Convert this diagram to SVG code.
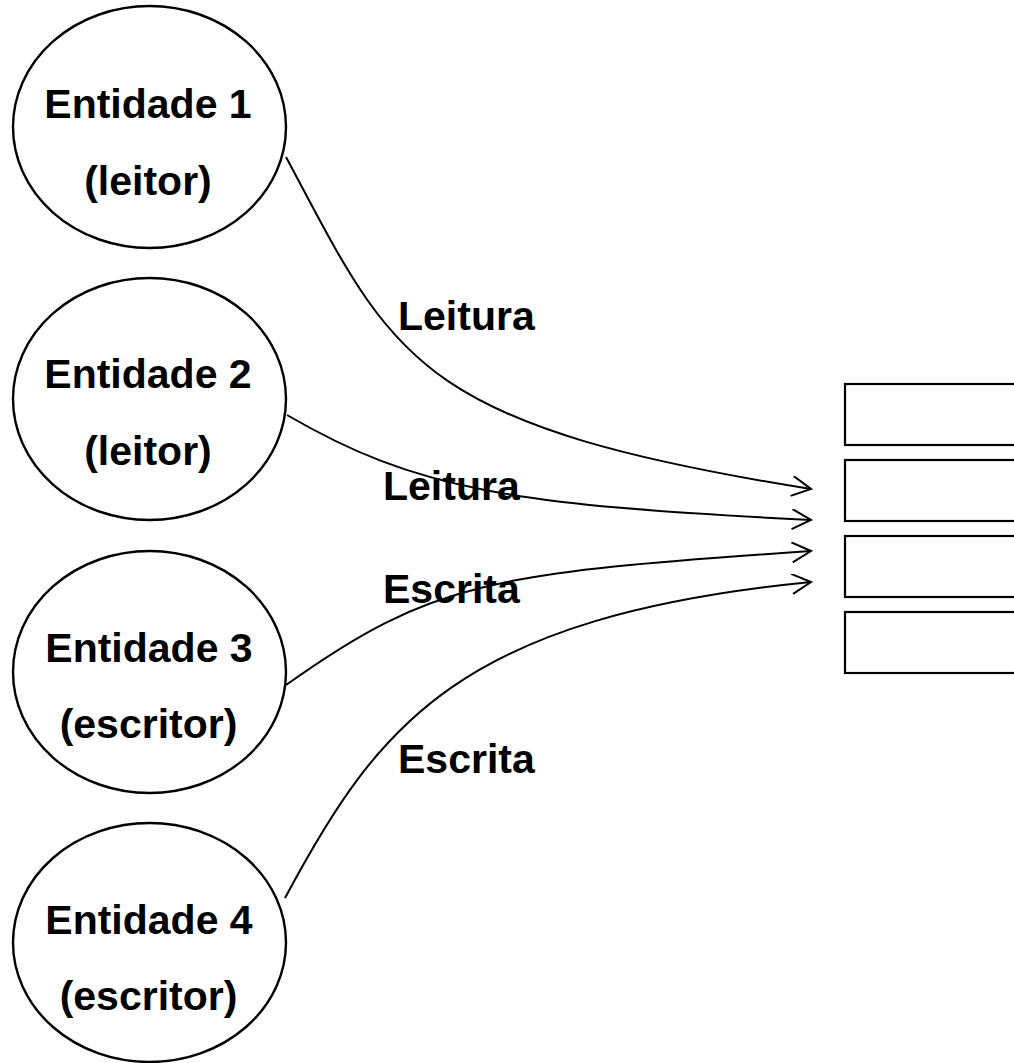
<svg xmlns="http://www.w3.org/2000/svg" width="1014" height="1063" viewBox="0 0 1014 1063">
<style>
.node{fill:#fff;stroke:#000;stroke-width:2.4}
.lbl{font-family:"Liberation Sans",Arial,sans-serif;font-weight:bold;font-size:41px;fill:#000}
.ctr{text-anchor:middle}
.conn{fill:none;stroke:#000;stroke-width:2;marker-end:url(#arr)}
.slot{fill:#fff;stroke:#000;stroke-width:2.2}
</style>
<defs>
<marker id="arr" markerWidth="24" markerHeight="24" refX="20" refY="10" orient="auto" markerUnits="userSpaceOnUse">
<polyline points="1,0 20,10 1,20" fill="none" stroke="#000" stroke-width="2"/>
</marker>
</defs>
<rect width="1014" height="1063" fill="#fff"/>
<g id="n1"><ellipse class="node" cx="149.5" cy="127" rx="136.5" ry="121"/>
<text class="lbl ctr" x="148" y="118">Entidade 1</text><text class="lbl ctr" x="148" y="195">(leitor)</text></g>
<g id="n2"><ellipse class="node" cx="149.5" cy="399" rx="136.5" ry="121"/>
<text class="lbl ctr" x="148" y="388">Entidade 2</text><text class="lbl ctr" x="148" y="465">(leitor)</text></g>
<g id="n3"><ellipse class="node" cx="149.5" cy="672" rx="136.5" ry="121"/>
<text class="lbl ctr" x="149" y="662">Entidade 3</text><text class="lbl ctr" x="148.5" y="738">(escritor)</text></g>
<g id="n4"><ellipse class="node" cx="149.5" cy="942.5" rx="136.5" ry="119.5"/>
<text class="lbl ctr" x="149" y="934">Entidade 4</text><text class="lbl ctr" x="148.5" y="1010">(escritor)</text></g>
<g id="buffer">
<rect class="slot" x="845" y="384" width="180" height="61"/>
<rect class="slot" x="845" y="460" width="180" height="61"/>
<rect class="slot" x="845" y="536" width="180" height="61"/>
<rect class="slot" x="845" y="612" width="180" height="61"/>
</g>
<g id="connectors">
<path class="conn" d="M286,157 C394,359 411,425 811,489"/>
<path class="conn" d="M287,415 C416,490 511,505 811,520"/>
<path class="conn" d="M286,685 C432,581 491,573 811,551"/>
<path class="conn" d="M285,898 C379,722 461,617 811,582"/>
</g>
<g id="labels">
<text class="lbl" x="398" y="330">Leitura</text>
<text class="lbl" x="383" y="500">Leitura</text>
<text class="lbl" x="383" y="603">Escrita</text>
<text class="lbl" x="398" y="773">Escrita</text>
</g>
</svg>
